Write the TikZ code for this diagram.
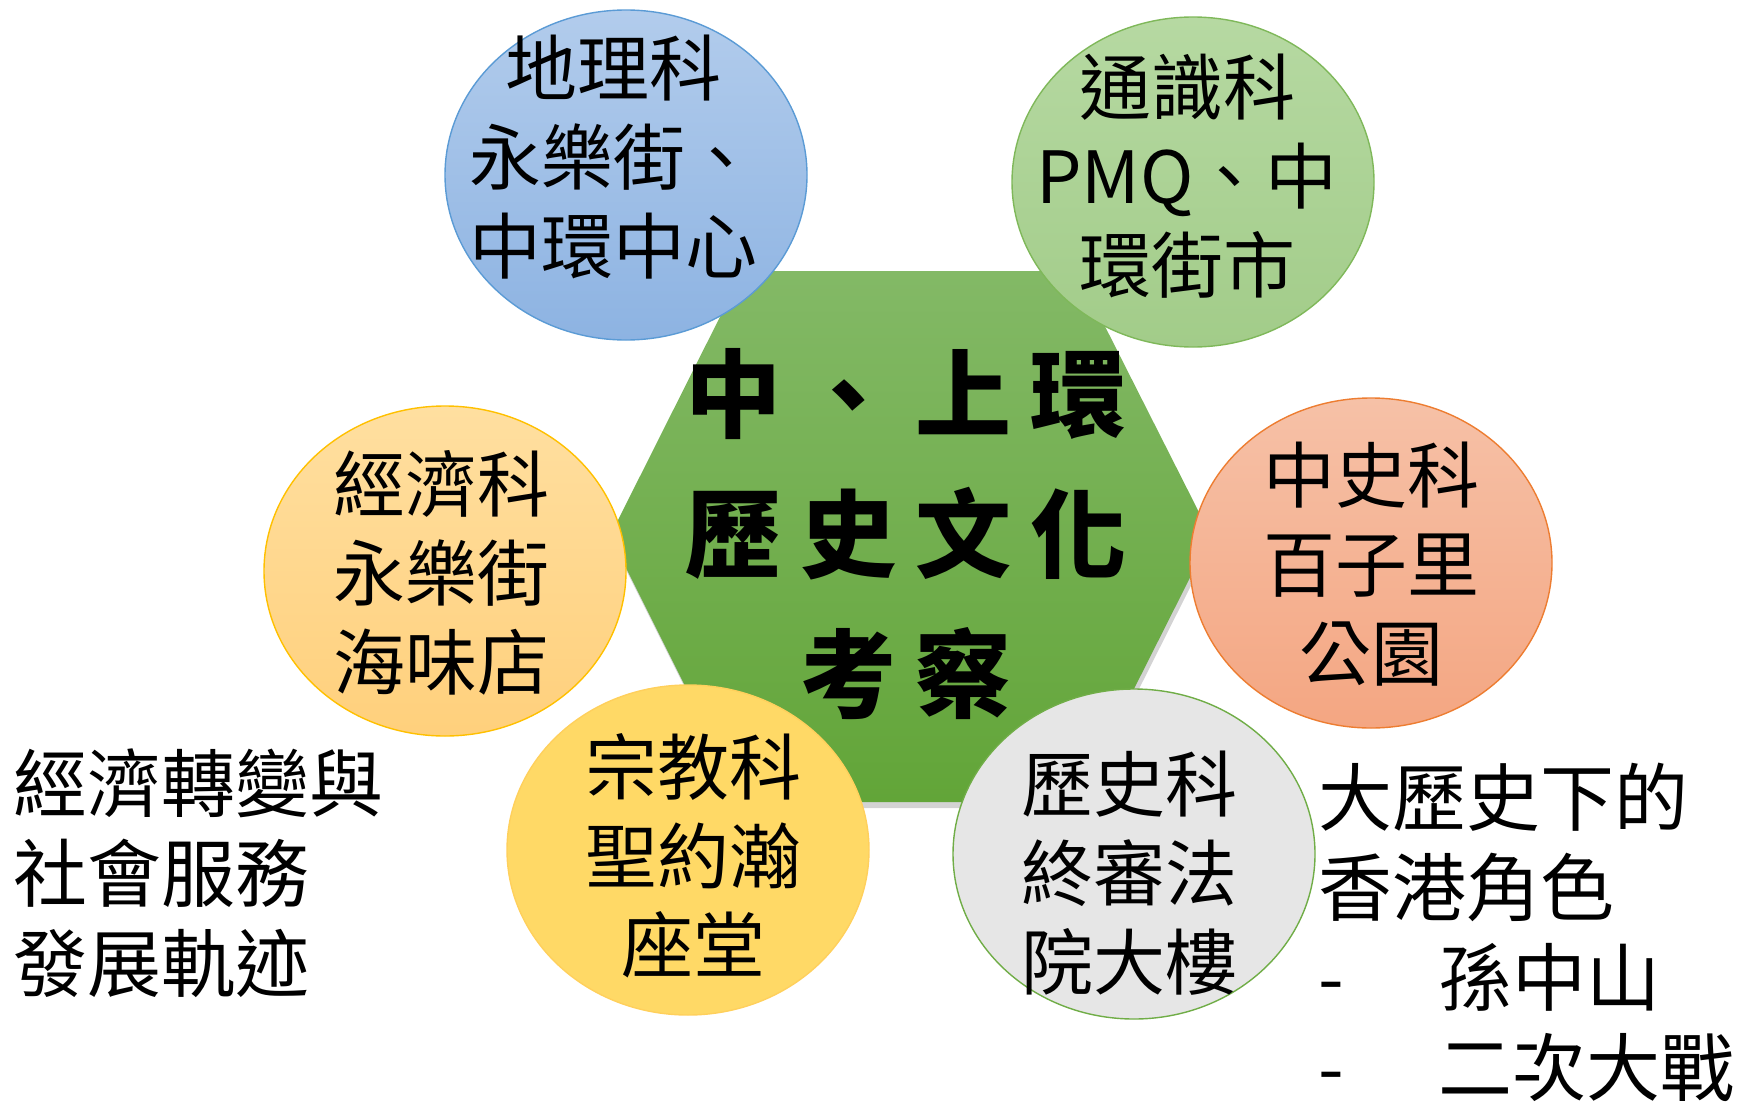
\documentclass[tikz,border=0pt]{standalone}
\usepackage{fontspec}
\newfontfamily\cjk{Noto Sans CJK TC}
\newfontfamily\titlecjk[LetterSpace=20]{Noto Sans CJK TC}
\usetikzlibrary{shapes.geometric,shadows}
\definecolor{hextop}{HTML}{83B966}
\definecolor{hexbot}{HTML}{62A538}
\definecolor{geotop}{HTML}{B2CCEC}
\definecolor{geobot}{HTML}{8DB3E2}
\definecolor{geoline}{HTML}{5B9BD5}
\definecolor{lstop}{HTML}{B6D9A2}
\definecolor{lsbot}{HTML}{A2CC89}
\definecolor{lsline}{HTML}{7FB85A}
\definecolor{ecotop}{HTML}{FFDFA0}
\definecolor{ecobot}{HTML}{FFD07C}
\definecolor{ecoline}{HTML}{FFC000}
\definecolor{chitop}{HTML}{F6C1A7}
\definecolor{chibot}{HTML}{F4A682}
\definecolor{chiline}{HTML}{ED7D31}
\definecolor{relfill}{HTML}{FFD966}
\definecolor{hisfill}{HTML}{E6E6E6}
\definecolor{hisline}{HTML}{70AD47}

\begin{document}
\begin{tikzpicture}[x=0.5pt,y=-0.5pt,
   bubble/.style={ellipse,minimum width=181pt,minimum height=165pt,inner sep=0pt,line width=0.7pt},
   subject/.style={align=center,inner sep=0pt,font=\cjk\fontsize{36pt}{44.5pt}\selectfont},
   note/.style={align=left,inner sep=0pt,anchor=west,font=\cjk\fontsize{37pt}{45pt}\selectfont}]
   \useasboundingbox (0,0) rectangle (1739,1102);
   \path[top color=hextop,bottom color=hexbot,
         drop shadow={shadow xshift=1pt,shadow yshift=-3pt,opacity=.35}]
      (610,536) -- (743,271) -- (1077,271) -- (1211,536) -- (1077,802) -- (743,802) -- cycle;

   \node[bubble,draw=geoline,top color=geotop,bottom color=geobot] (geo) at (626,175) {};
   \node[bubble,draw=lsline,top color=lstop,bottom color=lsbot] (ls) at (1193,182) {};
   \node[bubble,draw=ecoline,top color=ecotop,bottom color=ecobot] (eco) at (445,571) {};
   \node[bubble,draw=chiline,top color=chitop,bottom color=chibot] (chi) at (1371,563) {};
   \node[bubble,draw=relfill!90!orange,fill=relfill] (rel) at (688,850) {};
   \node[bubble,draw=hisline,fill=hisfill] (his) at (1134,854) {};

   \node[subject] (geotext) at (613,157) {地理科\\永樂街、\\中環中心};
   \node[subject] (lstext) at (1187,176) {通識科\\PMQ、中\\環街市};
   \node[subject] (ecotext) at (441,573) {經濟科\\永樂街\\海味店};
   \node[subject] (chitext) at (1371,564) {中史科\\百子里\\公園};
   \node[subject] (reltext) at (693,856) {宗教科\\聖約瀚\\座堂};
   \node[subject] (histext) at (1129,873) {歷史科\\終審法\\院大樓};

   \node[note] (ecosoc) at (13,873) {經濟轉變與\\社會服務\\發展軌迹};
   \node[note] (hkrole) at (1318,932) {大歷史下的\\香港角色\\
      \makebox[60pt][l]{-}孫中山\\\makebox[60pt][l]{-}二次大戰};

   \node[align=center,inner sep=0pt,font=\titlecjk\bfseries\fontsize{48pt}{70pt}\selectfont]
      (title) at (906,534) {中、上環\\歷史文化\\考察};
\end{tikzpicture}
\end{document}
